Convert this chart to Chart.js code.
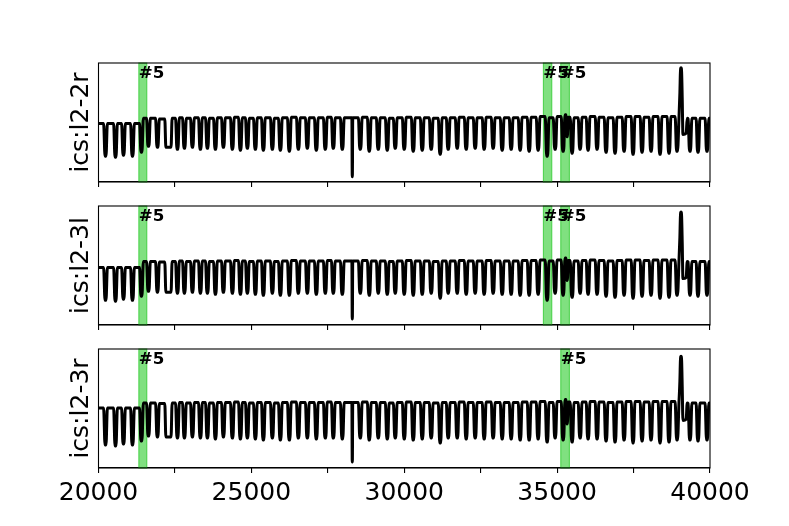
<!DOCTYPE html>
<html><head><meta charset="utf-8">
<script src="https://cdn.jsdelivr.net/npm/chart.js@4.4.1/dist/chart.umd.min.js"></script>
<style>
html,body{margin:0;padding:0;background:#fff;}
#wrap{position:relative;width:789px;height:526px;background:#fff;}
canvas{position:absolute;left:0;top:0;}
</style></head><body><div id="wrap">
<canvas id="c0" width="789" height="526"></canvas>
<canvas id="c1" width="789" height="526"></canvas>
<canvas id="c2" width="789" height="526"></canvas>
</div>
<script>
// ---------- data ----------
const xMin = 20000, xMax = 40000;
const xTickStep = 2500;
const xTickLabelValues = [20000, 25000, 30000, 35000, 40000];
const panelNames = ['ics:l2-2r', 'ics:l2-3l', 'ics:l2-3r'];
const bandLabel = '#5';

// times of the downward dips of the periodic signal (same timing in all three channels)
const dipTimes = [
  20229,20556,20817,21111,21405,21634,21928,22288,22582,22810,
  23072,23333,23562,23824,24085,24379,24641,24869,25131,25392,
  25686,25948,26242,26536,26830,27124,27418,27680,27974,28301,
  28562,28856,29150,29444,29706,30000,30294,30588,30882,31176,
  31438,31732,32026,32320,32614,32908,33203,33497,33791,34085,
  34379,34673,34935,35196,35327,35490,35752,36013,36307,36601,
  36895,37190,37484,37778,38072,38366,38660,38922,39346,39608,
  39902
];
// dips with a different duration: fall = time from plateau to bottom, flat = half bottom duration
const dipShape = { 7: {fall: 120, flat: 85}, 29: {fall: 14, flat: 2}, 54: {fall: 38, flat: 6} };
// short high excursion after dip index 67
const peakAfterDip = 67;
const peakTimes = [39015, 39032, 39052, 39072, 39092, 39115, 39220, 39255];

// plateau level before each dip (last entry = level at the end), per channel
const plateau_l22r = [
  49.2,49.2,49.2,49.2,49.2,53.5,53.5,53.0,53.5,54.0,
  53.5,54.0,54.0,53.5,54.0,54.0,54.5,54.0,53.5,54.0,
  54.0,53.5,54.0,54.5,54.0,54.0,54.0,54.5,54.0,54.0,
  54.0,54.5,54.0,54.0,53.5,54.0,54.5,54.0,54.0,53.5,
  54.0,54.0,54.5,54.0,54.0,54.5,54.0,54.0,54.0,54.5,
  54.5,55.0,54.0,55.0,56.5,54.5,54.0,54.5,55.0,54.5,
  54.0,54.5,55.0,55.0,54.5,55.0,55.0,55.0,53.0,53.5,
  53.5,53.5
];
const bottom_l22r = [
  21.7,20.8,22.5,21.7,25.0,30.0,29.2,29.2,27.5,28.3,
  29.2,27.5,28.3,27.5,29.2,27.5,26.7,28.3,27.5,26.7,
  27.5,26.7,25.8,27.5,28.3,26.7,27.5,28.3,27.5,4.5,
  27.5,25.8,27.5,26.7,28.3,27.5,25.8,26.7,27.5,23.3,
  27.5,28.3,27.5,28.3,27.5,28.3,26.7,27.5,26.7,25.8,
  26.7,21.7,27.5,25.8,38.0,24.2,27.5,26.7,27.5,25.0,
  24.2,25.8,23.3,25.0,25.8,23.3,24.2,25.8,25.8,25.0,
  25.8
];
const peak_l22r = [75, 92, 96, 92, 70, 40, 41, 53.5];

const plateau_l23l = [
  48.3,48.3,48.3,48.3,48.3,53.3,53.3,52.9,53.3,53.8,
  53.3,53.8,53.8,53.3,53.8,53.8,54.2,53.8,53.3,53.8,
  53.8,53.3,53.8,54.2,53.8,53.8,53.8,54.2,53.8,53.8,
  53.8,54.2,53.8,53.8,53.3,53.8,54.2,53.8,53.8,53.3,
  53.8,53.8,54.2,53.8,53.8,54.2,53.8,53.8,53.8,54.2,
  54.2,54.6,53.8,54.6,56.3,54.2,53.8,54.2,54.6,54.2,
  53.8,54.2,54.6,54.6,54.2,54.6,54.6,54.6,52.9,53.3,
  53.3,53.3
];
const bottom_l23l = [
  20.8,20.0,21.7,20.8,24.2,28.3,27.5,27.5,26.7,26.7,
  27.5,26.7,26.7,25.8,27.5,26.7,25.8,26.7,25.8,25.0,
  26.7,25.0,25.0,26.7,26.7,25.8,26.7,26.7,25.8,5.0,
  26.7,25.0,26.7,25.8,26.7,25.8,25.0,25.8,26.7,22.5,
  26.7,26.7,25.8,26.7,25.8,26.7,25.8,25.8,25.0,25.0,
  25.8,20.8,26.7,25.0,37.5,23.3,26.7,25.8,25.8,24.2,
  23.3,25.0,22.5,24.2,25.0,22.5,23.3,25.0,25.0,24.2,
  25.0
];
const peak_l23l = [74, 91, 95, 91, 69, 39, 40, 53.3];

const plateau_l23r = [
  50.4,50.4,50.4,50.4,50.4,54.6,54.6,54.2,54.6,55.0,
  54.6,55.0,55.0,54.6,55.0,55.0,55.5,55.0,54.6,55.0,
  55.0,54.6,55.0,55.5,55.0,55.0,55.0,55.5,55.0,55.0,
  55.0,55.5,55.0,55.0,54.6,55.0,55.5,55.0,55.0,54.6,
  55.0,55.0,55.5,55.0,55.0,55.5,55.0,55.0,55.0,55.5,
  55.5,55.9,55.0,55.9,57.6,55.5,55.0,55.5,55.9,55.5,
  55.0,55.5,55.9,55.9,55.5,55.9,55.9,55.9,54.2,54.6,
  54.6,54.6
];
const bottom_l23r = [
  19.3,18.5,20.2,19.3,22.7,26.9,26.1,26.1,25.2,25.2,
  26.1,25.2,25.2,24.4,26.1,25.2,24.4,25.2,24.4,23.5,
  25.2,23.5,23.5,25.2,25.2,24.4,25.2,25.2,24.4,5.0,
  25.2,23.5,25.2,24.4,25.2,24.4,23.5,24.4,25.2,21.0,
  25.2,25.2,24.4,25.2,24.4,25.2,24.4,24.4,23.5,23.5,
  24.4,21.8,25.2,23.5,37.0,21.8,25.2,24.4,24.4,22.7,
  21.8,23.5,21.0,22.7,23.5,21.0,21.8,23.5,23.5,22.7,
  23.5
];
const peak_l23r = [73, 90, 94, 90, 68, 40, 41, 54.6];

// highlighted time windows per channel
const bands_l22r = [[21320, 21580], [34550, 34825], [35120, 35400]];
const bands_l23l = [[21320, 21580], [34550, 34825], [35120, 35400]];
const bands_l23r = [[21320, 21580], [35120, 35400]];

// ---------- build ----------
function buildSeries(plat, bot, peak) {
  const pts = [{x: xMin, y: plat[0]}];
  dipTimes.forEach((t, i) => {
    const s = dipShape[i] || {fall: 62, flat: 16};
    pts.push({x: t - s.fall, y: plat[i]});
    pts.push({x: t - s.flat, y: bot[i]});
    pts.push({x: t + s.flat, y: bot[i]});
    pts.push({x: t + s.fall, y: plat[i + 1]});
    if (i === peakAfterDip) peakTimes.forEach((pt, k) => pts.push({x: pt, y: peak[k]}));
  });
  pts.push({x: xMax, y: plat[plat.length - 1]});
  return pts;
}

const panels = [
  {name: panelNames[0], data: buildSeries(plateau_l22r, bottom_l22r, peak_l22r), bands: bands_l22r, top: 63, bottom: 182, labels: false},
  {name: panelNames[1], data: buildSeries(plateau_l23l, bottom_l23l, peak_l23l), bands: bands_l23l, top: 206, bottom: 325, labels: false},
  {name: panelNames[2], data: buildSeries(plateau_l23r, bottom_l23r, peak_l23r), bands: bands_l23r, top: 349, bottom: 468, labels: true}
];

const FONT = 'DejaVu Sans';
const H = 526;

const bandPlugin = {
  id: 'bands',
  beforeDatasetsDraw(chart, args, opts) {
    const {ctx, chartArea: a, scales: {x}} = chart;
    ctx.save();
    opts.bands.forEach(([b0, b1]) => {
      const p0 = x.getPixelForValue(b0), p1 = x.getPixelForValue(b1);
      ctx.fillStyle = 'rgba(50,205,50,0.62)';
      ctx.fillRect(p0, a.top, p1 - p0, a.bottom - a.top);
      ctx.strokeStyle = 'rgba(50,205,50,0.85)';
      ctx.lineWidth = 1;
      ctx.strokeRect(p0, a.top, p1 - p0, a.bottom - a.top);
    });
    ctx.restore();
  },
  afterDatasetsDraw(chart, args, opts) {
    const {ctx, chartArea: a, scales: {x}} = chart;
    ctx.save();
    ctx.fillStyle = '#000';
    ctx.font = 'bold 16.7px "' + FONT + '"';
    ctx.textBaseline = 'alphabetic';
    ctx.textAlign = 'left';
    opts.bands.forEach(([b0]) => {
      ctx.fillText(bandLabel, x.getPixelForValue(b0), a.top + 15.2);
    });
    ctx.restore();
  }
};
const framePlugin = {
  id: 'frame',
  afterDraw(chart) {
    const {ctx, chartArea: a} = chart;
    ctx.save();
    ctx.strokeStyle = '#000';
    ctx.lineWidth = 1.1;
    ctx.strokeRect(a.left, a.top, a.right - a.left, a.bottom - a.top);
    ctx.restore();
  }
};

panels.forEach((p, idx) => {
  const axisH = p.labels ? 50 : 10;
  new Chart(document.getElementById('c' + idx), {
    type: 'line',
    data: {datasets: [{
      data: p.data, borderColor: '#000', borderWidth: 3, pointRadius: 0,
      cubicInterpolationMode: 'monotone', fill: false,
      borderJoinStyle: 'round', borderCapStyle: 'round'
    }]},
    options: {
      responsive: false, animation: false, events: [],
      layout: {padding: {top: p.top, bottom: H - p.bottom - axisH, left: 62.5, right: 79}},
      plugins: {legend: {display: false}, tooltip: {enabled: false}, bands: {bands: p.bands}},
      scales: {
        x: {
          type: 'linear', min: xMin, max: xMax,
          ticks: {
            display: p.labels, stepSize: xTickStep, autoSkip: false, maxRotation: 0,
            padding: 5, color: '#000', font: {family: FONT, size: 25},
            callback: v => xTickLabelValues.includes(v) ? String(v) : ''
          },
          grid: {drawOnChartArea: false, drawTicks: true, tickLength: 5, color: '#000', lineWidth: 1.1},
          border: {display: true, color: '#000', width: 1.1},
          afterFit: s => { s.height = axisH; }
        },
        y: {
          min: 0, max: 100,
          ticks: {display: false},
          grid: {display: false, drawTicks: false},
          border: {display: false},
          title: {display: true, text: p.name, color: '#000', font: {family: FONT, size: 25}, padding: {top: 4, bottom: 4}},
          afterFit: s => { s.width = 36; }
        }
      }
    },
    plugins: [bandPlugin, framePlugin]
  });
});
</script>
</body></html>
